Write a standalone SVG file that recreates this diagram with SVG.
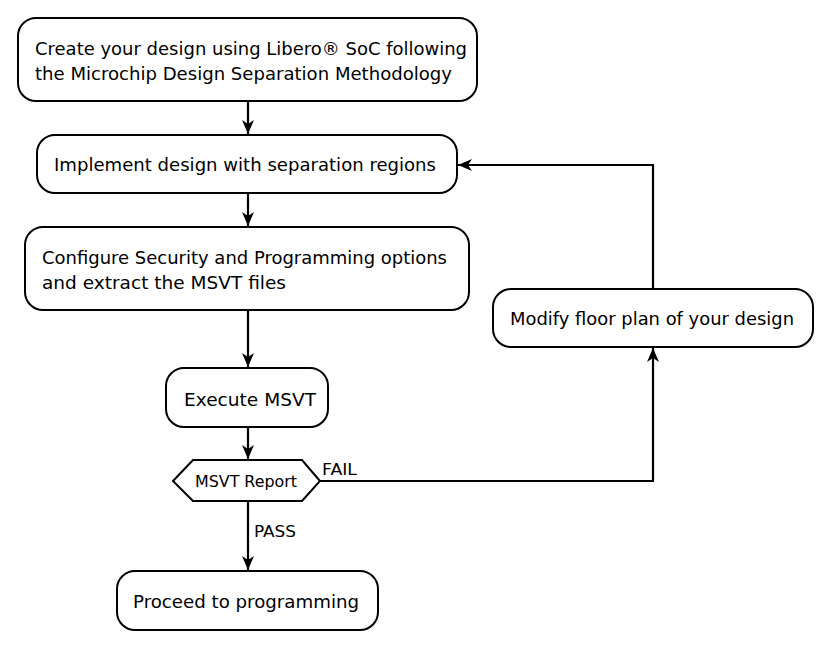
<svg xmlns="http://www.w3.org/2000/svg" width="831" height="646" viewBox="0 0 831 646">
<defs>
<style>
.box{fill:#fff;stroke:#000;stroke-width:2}
.t{font-family:"DejaVu Sans","Liberation Sans",sans-serif;font-size:18px;fill:#000}
.s{font-family:"DejaVu Sans","Liberation Sans",sans-serif;font-size:15px;fill:#000}
.c{fill:none;stroke:#000;stroke-width:2.2}
</style>
<marker id="arr" viewBox="0 0 15 12" refX="14" refY="6" markerWidth="15" markerHeight="12" markerUnits="userSpaceOnUse" orient="auto">
<path d="M0,0 L14,6 L0,12 L4,6 z" fill="#000"/>
</marker>
</defs>
<rect width="831" height="646" fill="#fff"/>
<g id="connectors">
<line class="c" x1="248" y1="101" x2="248" y2="134" marker-end="url(#arr)"/>
<line class="c" x1="248" y1="193" x2="248" y2="226" marker-end="url(#arr)"/>
<line class="c" x1="248" y1="310" x2="248" y2="367" marker-end="url(#arr)"/>
<line class="c" x1="248" y1="427" x2="248" y2="459" marker-end="url(#arr)"/>
<line class="c" x1="248" y1="501" x2="248" y2="570" marker-end="url(#arr)"/>
<polyline class="c" points="320,481 653,481 653,348" marker-end="url(#arr)"/>
<polyline class="c" points="653,289 653,165 458,165" marker-end="url(#arr)"/>
<text class="s" x="322" y="475" textLength="35" lengthAdjust="spacingAndGlyphs">FAIL</text>
<text class="s" x="254" y="537" textLength="42" lengthAdjust="spacingAndGlyphs">PASS</text>
</g>
<g id="n1">
<rect class="box" x="18" y="18" width="459" height="83" rx="18"/>
<text class="t" x="35" y="55" textLength="432" lengthAdjust="spacingAndGlyphs">Create your design using Libero® SoC following</text>
<text class="t" x="35" y="80" textLength="417" lengthAdjust="spacingAndGlyphs">the Microchip Design Separation Methodology</text>
</g>
<g id="n2">
<rect class="box" x="37" y="135" width="420" height="58" rx="18"/>
<text class="t" x="54" y="171" textLength="382" lengthAdjust="spacingAndGlyphs">Implement design with separation regions</text>
</g>
<g id="n3">
<rect class="box" x="25" y="227" width="444" height="83" rx="18"/>
<text class="t" x="42" y="264" textLength="405" lengthAdjust="spacingAndGlyphs">Configure Security and Programming options</text>
<text class="t" x="42" y="289" textLength="244" lengthAdjust="spacingAndGlyphs">and extract the MSVT files</text>
</g>
<g id="n4">
<rect class="box" x="166" y="368" width="162" height="59" rx="18"/>
<text class="t" x="184" y="406" textLength="132" lengthAdjust="spacingAndGlyphs">Execute MSVT</text>
</g>
<g id="n5">
<polygon class="box" points="173,481 193,460 302,460 320,481 302,501 193,501"/>
<text class="s" x="195" y="487" textLength="102" lengthAdjust="spacingAndGlyphs">MSVT Report</text>
</g>
<g id="n6">
<rect class="box" x="117" y="571" width="261" height="59" rx="18"/>
<text class="t" x="133" y="608" textLength="226" lengthAdjust="spacingAndGlyphs">Proceed to programming</text>
</g>
<g id="n7">
<rect class="box" x="493" y="289" width="320" height="58" rx="18"/>
<text class="t" x="510" y="325" textLength="284" lengthAdjust="spacingAndGlyphs">Modify floor plan of your design</text>
</g>
</svg>
